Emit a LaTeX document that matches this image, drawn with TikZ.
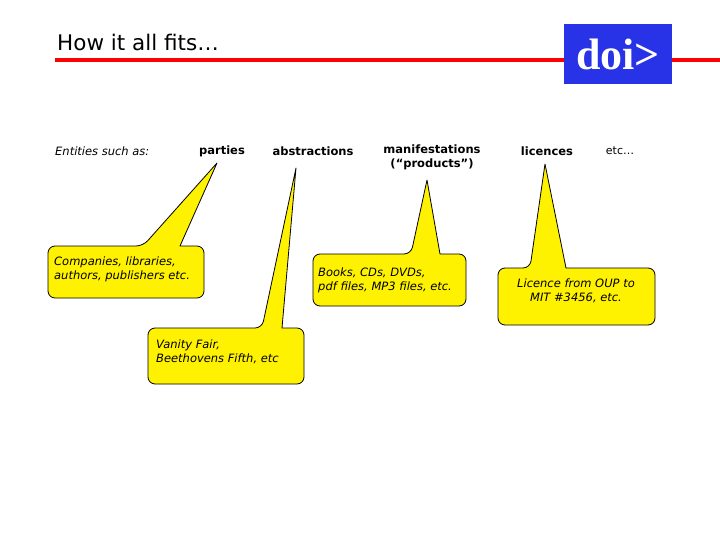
\documentclass[tikz,border=0pt]{standalone}
\usepackage{fontspec}
\setmainfont{DejaVu Sans}
\begin{document}
\begin{tikzpicture}[x=1pt,y=-1pt,
  lab/.style={font=\fontsize{11.5}{14}\selectfont\bfseries, inner sep=0pt},
  ctext/.style={font=\fontsize{11.5}{14}\selectfont\itshape, inner sep=0pt, align=left},
  callout/.style={fill=yellow, draw=black, line width=0.8pt, line join=round}]
\useasboundingbox (0,0) rectangle (720,540);
\fill[white] (0,0) rectangle (720,540);
\node[anchor=west, inner sep=0pt, font=\fontsize{21.5}{24}\selectfont] (title) at (57,42) {How it all fits…};
\draw[red, line width=4.5pt] (55,60) -- (720,60);
\node[fill={rgb,255:red,40;green,50;blue,230}, minimum width=108, minimum height=60, inner sep=0pt,
  text=white, font=\fontsize{44}{46}\selectfont\bfseries] (doi) at (618,54) {\fontspec{Liberation Serif}doi>};
% header labels
\node[inner sep=0pt, anchor=west, font=\fontsize{11.5}{14}\selectfont\itshape] (ent) at (55,151) {Entities such as:};
\node[lab] (parties) at (222,151) {parties};
\node[lab] (abstr) at (313,151) {abstractions};
\node[lab, align=center, anchor=north] (manif) at (432,145) {manifestations\\(“products”)};
\node[lab] (lic) at (547,151) {licences};
\node[inner sep=0pt, font=\fontsize{11}{14}\selectfont] (etc) at (620,151) {etc…};
% callouts
\draw[callout] (143,246) -- (217,163) -- (180,246) [rounded corners=7] -- (204,246) -- (204,298) -- (48,298) -- (48,246) -- cycle;
\node[ctext, anchor=north west] (c1) at (54,257) {Companies, libraries,\\authors, publishers etc.};
\draw[callout] (262,328) -- (296,168) -- (282,328) [rounded corners=7] -- (304,328) -- (304,384) -- (148,384) -- (148,328) -- cycle;
\node[ctext, anchor=north west] (c2) at (156,340) {Vanity Fair,\\Beethovens Fifth, etc};
\draw[callout] (411,254) -- (427,180) -- (440,254) [rounded corners=7] -- (466,254) -- (466,306) -- (313,306) -- (313,254) -- cycle;
\node[ctext, anchor=north west] (c3) at (318,268) {Books, CDs, DVDs,\\pdf files, MP3 files, etc.};
\draw[callout] (530,268) -- (545,164) -- (566,268) [rounded corners=7] -- (655,268) -- (655,325) -- (498,325) -- (498,268) -- cycle;
\node[ctext, align=center] (c4) at (576,291) {Licence from OUP to\\MIT \#3456, etc.};
\end{tikzpicture}
\end{document}
